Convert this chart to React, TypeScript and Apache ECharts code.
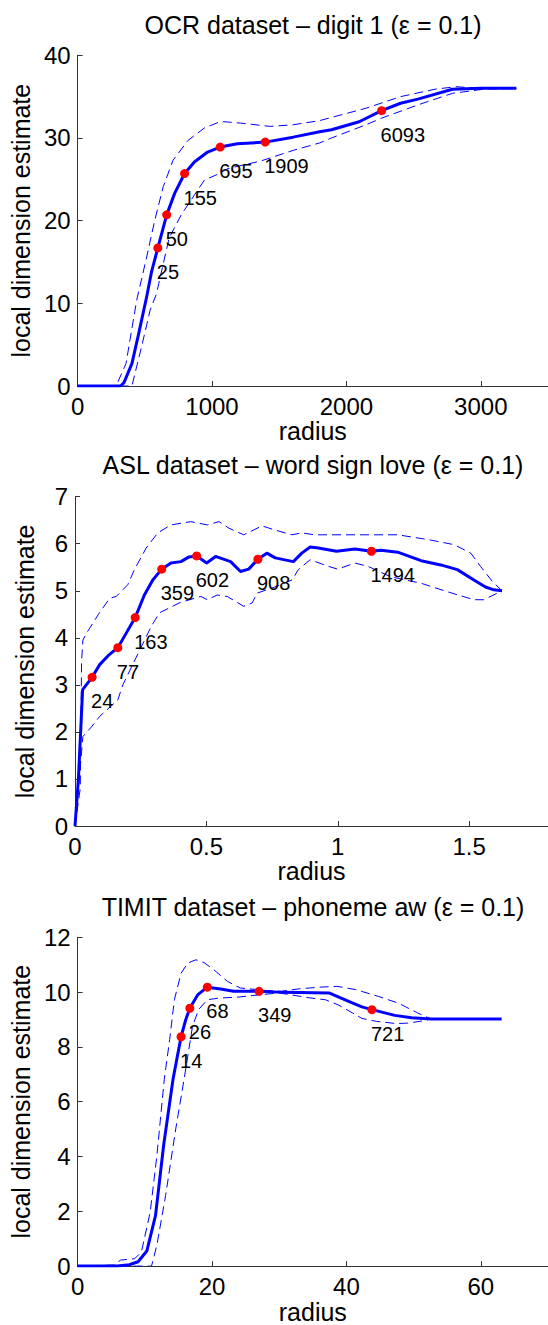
import React, { useEffect, useRef } from 'react';
import * as echarts from 'echarts';

// ---------- OCR dataset – digit 1 ----------
const ocrMain: [number, number][] = [
  [0, 0], [320, 0], [345, 0.4], [404, 2.7], [450, 6.0], [514, 10.8], [550, 13.8], [597, 16.7],
  [663, 20.7], [722, 23.3], [796, 25.7], [869, 27.1], [967, 28.3], [1061, 28.9], [1188, 29.3],
  [1396, 29.5], [1604, 30.1], [1801, 30.75], [1889, 31.0], [2095, 31.96], [2262, 33.3],
  [2403, 34.2], [2532, 34.7], [2789, 35.9], [3000, 36.0], [3264, 36.0],
];
const ocrUpper: [number, number][] = [
  [0, 0], [265, 0], [300, 0.5], [360, 2.7], [440, 10.4], [514, 15.6], [575, 20.1], [637, 24.1],
  [710, 27.3], [821, 29.7], [943, 31.2], [1065, 32.0], [1213, 31.8], [1433, 31.4], [1604, 31.6],
  [1801, 32.1], [2146, 33.6], [2403, 35.0], [2660, 35.9], [2815, 36.2], [2994, 36.0], [3264, 36.0],
];
const ocrLower: [number, number][] = [
  [0, 0], [404, 0], [476, 4.75], [540, 9.2], [588, 11.2], [604, 12.4], [681, 17.9], [771, 20.7],
  [943, 24.9], [1041, 25.6], [1118, 26.3], [1360, 27.2], [1604, 28.5], [1801, 29.4], [1889, 30.0],
  [2146, 31.6], [2262, 32.4], [2532, 34.0], [2789, 35.4], [3020, 35.9], [3264, 36.0],
];
const ocrDotR = [597, 663, 796, 1061, 1396, 2262];
const ocrDotD = [16.7, 20.7, 25.7, 28.9, 29.5, 33.3];
const ocrDotN = ['25', '50', '155', '695', '1909', '6093'];

// ---------- ASL dataset – word sign love ----------
const aslMain: [number, number][] = [
  [0, 0], [0.013, 1.0], [0.029, 2.9], [0.065, 3.16], [0.094, 3.43], [0.126, 3.62], [0.163, 3.79],
  [0.195, 4.10], [0.229, 4.43], [0.264, 4.91], [0.296, 5.23], [0.330, 5.46], [0.365, 5.59],
  [0.403, 5.62], [0.434, 5.72], [0.463, 5.74], [0.501, 5.59], [0.535, 5.73], [0.592, 5.62],
  [0.630, 5.41], [0.661, 5.46], [0.696, 5.67], [0.730, 5.80], [0.762, 5.70], [0.831, 5.62],
  [0.863, 5.80], [0.895, 5.93], [0.926, 5.91], [0.995, 5.84], [1.065, 5.89], [1.128, 5.84],
  [1.165, 5.86], [1.228, 5.82], [1.317, 5.64], [1.392, 5.55], [1.455, 5.45], [1.518, 5.23],
  [1.562, 5.08], [1.594, 5.02], [1.625, 5.0],
];
const aslUpper: [number, number][] = [
  [0, 0], [0.02, 0.8], [0.025, 3.5], [0.03, 3.95], [0.044, 4.10], [0.088, 4.49], [0.132, 4.84],
  [0.157, 4.88], [0.201, 5.13], [0.226, 5.45], [0.271, 5.91], [0.315, 6.23], [0.365, 6.40],
  [0.441, 6.47], [0.504, 6.40], [0.548, 6.47], [0.586, 6.33], [0.642, 6.19], [0.712, 6.38],
  [0.756, 6.30], [0.825, 6.19], [0.863, 6.23], [0.913, 6.19], [1.228, 6.19], [1.342, 6.09],
  [1.443, 5.98], [1.506, 5.80], [1.543, 5.52], [1.588, 5.20], [1.625, 5.0],
];
const aslLower: [number, number][] = [
  [0, 0], [0.016, 1.0], [0.03, 1.9], [0.063, 2.11], [0.094, 2.33], [0.163, 2.68], [0.182, 3.0],
  [0.29, 4.24], [0.321, 4.53], [0.40, 4.75], [0.479, 4.88], [0.504, 4.81], [0.541, 4.91],
  [0.579, 4.88], [0.642, 4.67], [0.674, 4.74], [0.693, 4.95], [0.76, 5.08], [0.826, 5.23],
  [0.850, 5.45], [0.895, 5.66], [0.964, 5.52], [1.0, 5.46], [1.065, 5.59], [1.115, 5.52],
  [1.20, 5.30], [1.317, 5.16], [1.417, 4.98], [1.518, 4.81], [1.556, 4.81], [1.625, 5.0],
];
const aslDotR = [0.065, 0.163, 0.229, 0.330, 0.463, 0.696, 1.128];
const aslDotD = [3.16, 3.79, 4.43, 5.46, 5.74, 5.67, 5.84];
const aslDotN = ['24', '77', '163', '359', '602', '908', '1494'];

// ---------- TIMIT dataset – phoneme aw ----------
const timitMain: [number, number][] = [
  [0, 0], [5.9, 0], [7.7, 0.05], [9.0, 0.16], [10.3, 0.55], [11.6, 1.85], [12.8, 4.4],
  [14.2, 6.82], [15.4, 8.37], [16.1, 9.0], [16.7, 9.41], [17.9, 9.91], [19.3, 10.18],
  [21.3, 10.11], [23.2, 10.03], [27.0, 10.03], [30.6, 9.99], [37.4, 9.97], [40.6, 9.63],
  [42.3, 9.46], [43.8, 9.36], [47.2, 9.15], [49.7, 9.06], [52.6, 9.02], [63.1, 9.02],
];
const timitUpper: [number, number][] = [
  [0, 0], [5.4, 0.04], [6.4, 0.22], [8.5, 0.27], [9.5, 0.52], [10.8, 1.97], [11.8, 4.03],
  [12.9, 6.82], [13.7, 8.27], [14.4, 9.72], [15.4, 10.69], [16.4, 11.06], [17.6, 11.18],
  [18.8, 11.08], [20.3, 10.81], [22.3, 10.39], [24.2, 10.15], [28.1, 10.06], [30.3, 10.03],
  [33.0, 10.12], [36.0, 10.18], [38.6, 10.21], [41.4, 10.09], [44.8, 9.84], [47.7, 9.60],
  [50.6, 9.24], [52.6, 9.02],
];
const timitLower: [number, number][] = [
  [0, 0], [11.0, 0], [11.8, 0.77], [13.1, 2.58], [14.6, 5.0], [15.9, 6.9], [17.1, 8.75],
  [18.0, 9.36], [19.3, 9.72], [21.0, 9.78], [24.0, 9.82], [27.0, 9.9], [30.0, 9.97],
  [34.5, 9.79], [36.9, 9.72], [38.9, 9.52], [40.9, 9.24], [42.3, 9.04], [44.5, 8.93],
  [47.5, 8.85], [49.2, 8.87], [51.1, 8.94], [52.6, 9.02],
];
const timitDotR = [15.4, 16.7, 19.3, 27.0, 43.8];
const timitDotD = [8.37, 9.41, 10.18, 10.03, 9.36];
const timitDotN = ['14', '26', '68', '349', '721'];

const titles = [
  'OCR dataset – digit 1 (ε = 0.1)',
  'ASL dataset – word sign love (ε = 0.1)',
  'TIMIT dataset – phoneme aw (ε = 0.1)',
];
const xMax = [3500, 1.8, 70];
const yMax = [40, 7, 12];
const xTicks = [[0, 1000, 2000, 3000], [0, 0.5, 1, 1.5], [0, 20, 40, 60]];
const yStep = [10, 1, 2];

const FONT = '"Liberation Sans", Arial, Helvetica, sans-serif';
const BLUE = '#0000ff';

export default function App() {
  const ref = useRef<HTMLDivElement>(null);
  useEffect(() => {
    if (!ref.current) return;
    const chart = echarts.init(ref.current, null, { renderer: 'svg' });

    const grids = [
      { left: 75, top: 55.3, width: 476, height: 330.7 },
      { left: 75, top: 496.7, width: 476, height: 329.3 },
      { left: 75, top: 937.3, width: 476, height: 330.4 },
    ];
    const titleY = [25, 465, 907];
    const panels = [
      { main: ocrMain, upper: ocrUpper, lower: ocrLower, r: ocrDotR, d: ocrDotD, n: ocrDotN },
      { main: aslMain, upper: aslUpper, lower: aslLower, r: aslDotR, d: aslDotD, n: aslDotN },
      { main: timitMain, upper: timitUpper, lower: timitLower, r: timitDotR, d: timitDotD, n: timitDotN },
    ];

    const axisLine = { show: true, lineStyle: { color: '#333', width: 1 } };
    const axisTick = (vals?: number[]) => ({
      show: true, inside: true, length: 5, lineStyle: { color: '#333', width: 1 },
      ...(vals ? { customValues: vals } : {}),
    });

    const series: any[] = [];
    panels.forEach((p, i) => {
      const common = {
        type: 'line', xAxisIndex: i, yAxisIndex: i, showSymbol: false, symbol: 'none',
        smooth: false, silent: true,
      };
      series.push({ ...common, name: `upper${i}`, data: p.upper, lineStyle: { color: BLUE, width: 1, type: [9, 5] }, z: 2 });
      series.push({ ...common, name: `lower${i}`, data: p.lower, lineStyle: { color: BLUE, width: 1, type: [9, 5] }, z: 2 });
      series.push({ ...common, name: `main${i}`, data: p.main, lineStyle: { color: BLUE, width: 3, join: 'round' }, z: 3 });
      series.push({
        type: 'scatter', name: `dots${i}`, xAxisIndex: i, yAxisIndex: i, symbol: 'circle', symbolSize: 9,
        itemStyle: { color: '#ff0000', opacity: 1 }, z: 4, silent: true,
        data: p.r.map((x, k) => ({ value: [x, p.d[k]], name: p.n[k] })),
        label: {
          show: true, formatter: '{b}', position: 'right', distance: 0, align: 'left', verticalAlign: 'middle',
          offset: [-5.5, 24], fontSize: 20, color: '#000', fontFamily: FONT,
          textBorderWidth: 0, textBorderColor: 'transparent',
        },
      });
    });

    const option: any = {
      animation: false,
      backgroundColor: '#fff',
      textStyle: { fontFamily: FONT, color: '#000' },
      title: titles.map((t, i) => ({
        text: t, left: 313, top: titleY[i], textAlign: 'center', textVerticalAlign: 'middle', padding: 0,
        textStyle: { fontSize: 25, fontWeight: 'normal', color: '#000', fontFamily: FONT },
      })),
      grid: grids,
      xAxis: grids.map((_, i) => ({
        type: 'value', gridIndex: i, min: 0, max: xMax[i],
        name: 'radius', nameLocation: 'middle', nameGap: 30,
        nameTextStyle: { fontSize: 25, color: '#000', fontFamily: FONT },
        axisLine, axisTick: axisTick(xTicks[i]), splitLine: { show: false },
        axisLabel: {
          fontSize: 24, color: '#000', margin: 8, fontFamily: FONT, customValues: xTicks[i],
          formatter: (v: number) => String(v),
        },
      })),
      yAxis: grids.map((_, i) => ({
        type: 'value', gridIndex: i, min: 0, max: yMax[i], interval: yStep[i],
        name: 'local dimension estimate', nameLocation: 'middle', nameGap: 38,
        nameTextStyle: { fontSize: 25, color: '#000', fontFamily: FONT },
        axisLine, axisTick: axisTick(), splitLine: { show: false },
        axisLabel: { fontSize: 24, color: '#000', margin: 7, fontFamily: FONT, formatter: (v: number) => String(v) },
      })),
      series,
    };
    chart.setOption(option);
    return () => chart.dispose();
  }, []);
  return (
    <div
      ref={ref}
      style={{ position: 'absolute', left: 0, top: 0, width: 548, height: 1325, background: '#fff' }}
    />
  );
}
